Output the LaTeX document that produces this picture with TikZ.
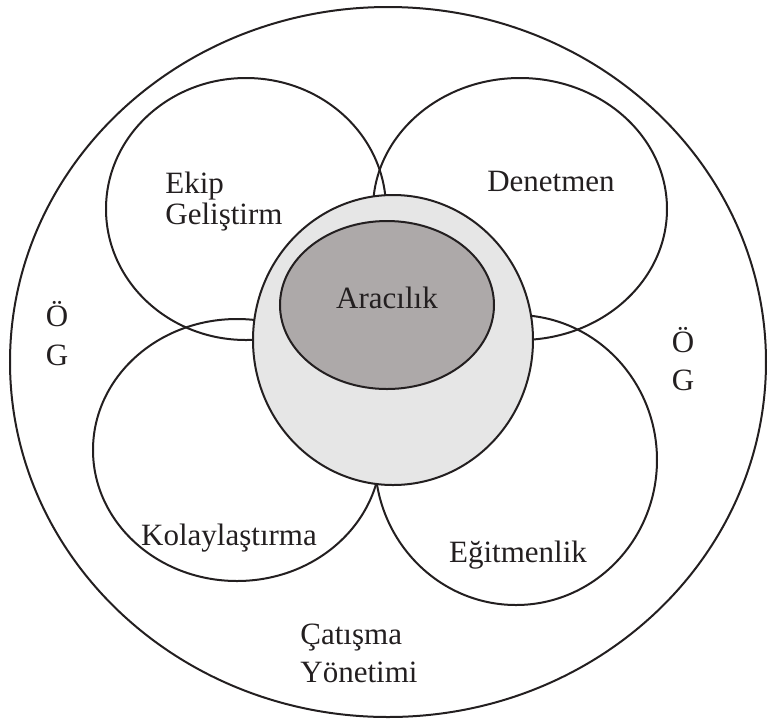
\documentclass[tikz,border=0pt]{standalone}
\usepackage{fontspec}
\setmainfont{Liberation Serif}
\usetikzlibrary{shapes.geometric}
\definecolor{inkline}{HTML}{231F20}
\definecolor{ringgray}{HTML}{E6E6E6}
\definecolor{coregray}{HTML}{ADA9A9}

\begin{document}
\begin{tikzpicture}[x=0.5pt,y=-0.5pt,
  oval/.style={ellipse,draw=inkline,line width=1pt,inner sep=0pt},
  lbl/.style={anchor=base,inner sep=0pt,text=inkline,font=\fontsize{15.5}{18}\selectfont}]
  \useasboundingbox (0,0) rectangle (768,720);
  % outer frame
  \node[oval,minimum width=378pt,minimum height=355pt] (frame) at (388,362) {};
  % petals
  \node[oval,minimum width=140pt,minimum height=131pt] (ekip) at (246,209) {};
  \node[oval,minimum width=147pt,minimum height=131pt] (denet) at (520,209) {};
  \node[oval,minimum width=144pt,minimum height=131pt] (kolay) at (237,450) {};
  \node[oval,minimum width=141pt,minimum height=145pt] (egit) at (516,460) {};
  % centre
  \node[oval,fill=ringgray,minimum width=140pt,minimum height=145pt] (ring) at (393,340) {};
  \node[oval,fill=coregray,minimum width=107pt,minimum height=84pt] (core) at (387,305) {};
  % labels
  \node[lbl] (aracilik) at (387,308) {Aracılık};
  \node[lbl,anchor=base west] (ekipA) at (165,193) {Ekip};
  \node[lbl,anchor=base west] (ekipB) at (165,224) {Geliştirm};
  \node[lbl] (denetmen) at (551,191) {Denetmen};
  \node[lbl] (kolaylastirma) at (229,545) {Kolaylaştırma};
  \node[lbl] (egitmenlik) at (518,562) {Eğitmenlik};
  \node[lbl,anchor=base west] (catismaA) at (300,644) {Çatışma};
  \node[lbl,anchor=base west] (catismaB) at (300,682) {Yönetimi};
  \node[lbl] (leftO) at (57,326) {Ö};
  \node[lbl] (leftG) at (57,365) {G};
  \node[lbl] (rightO) at (683,352) {Ö};
  \node[lbl] (rightG) at (683,390) {G};
\end{tikzpicture}
\end{document}
